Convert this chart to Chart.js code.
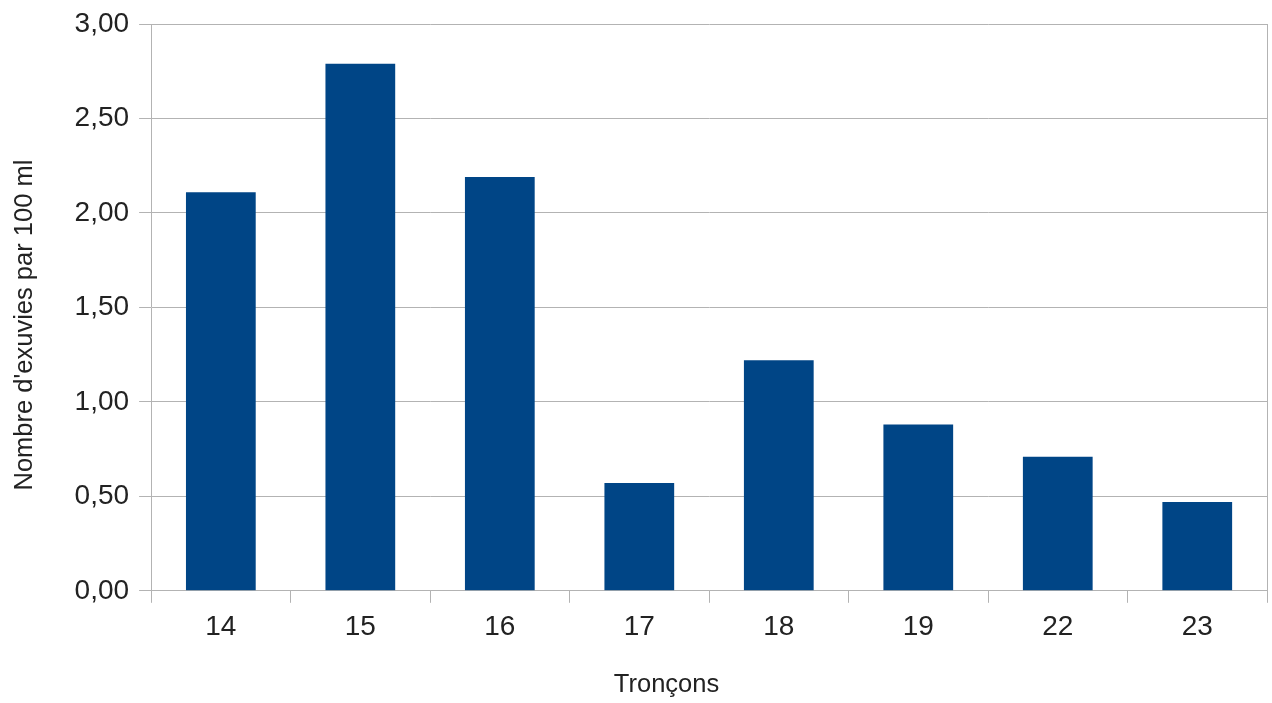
<!DOCTYPE html>
<html>
<head>
<meta charset="utf-8">
<script src="https://cdn.jsdelivr.net/npm/chart.js@4/dist/chart.umd.min.js"></script>
<style>
  html, body { margin: 0; padding: 0; background: #fff; }
  #wrap { width: 1272px; height: 703px; }
</style>
</head>
<body>
<div id="wrap"><canvas id="exuviesChart"></canvas></div>
<script>
const troncons = ['14', '15', '16', '17', '18', '19', '22', '23'];
const exuviesPar100m = [2.11, 2.79, 2.19, 0.57, 1.22, 0.88, 0.71, 0.47];
const yTicks = [0, 0.5, 1, 1.5, 2, 2.5, 3];

const gridColor = '#b3b3b3';
const textColor = '#222';
const fontFamily = '"Liberation Sans", Arial, sans-serif';

const frFormat = v => v.toFixed(2).replace('.', ',');
// trailing spaces push the centred titles a little off the axis middle
const pad = n => ' '.repeat(n);

new Chart(document.getElementById('exuviesChart'), {
    type: 'bar',
    data: {
        labels: troncons,
        datasets: [{
            label: "Nombre d'exuvies par 100 ml",
            data: exuviesPar100m,
            backgroundColor: '#004586',
            borderWidth: 0,
            barPercentage: 0.5,
            categoryPercentage: 1.0
        }]
    },
    options: {
        responsive: true,
        maintainAspectRatio: false,
        animation: false,
        layout: { padding: { left: 10, right: 5, top: 24, bottom: 3 } },
        plugins: {
            legend: { display: false },
            tooltip: { enabled: false }
        },
        scales: {
            x: {
                offset: true,
                grid: {
                    offset: true,
                    drawOnChartArea: false,
                    color: gridColor,
                    tickLength: 12
                },
                border: { color: gridColor },
                ticks: {
                    color: textColor,
                    padding: 8,
                    font: { family: fontFamily, size: 28 }
                },
                title: {
                    display: true,
                    text: 'Tronçons' + pad(12),
                    color: textColor,
                    padding: { top: 17, bottom: 0 },
                    font: { family: fontFamily, size: 25.5 }
                }
            },
            y: {
                min: 0,
                max: 3,
                afterBuildTicks: axis => { axis.ticks = yTicks.map(v => ({ value: v })); },
                grid: { color: gridColor, tickLength: 12 },
                border: { color: gridColor },
                ticks: {
                    color: textColor,
                    padding: 10,
                    callback: v => frFormat(v),
                    font: { family: fontFamily, size: 28, lineHeight: 1 }
                },
                title: {
                    display: true,
                    text: "Nombre d'exuvies par 100 ml" + pad(5),
                    color: textColor,
                    padding: { top: 0, bottom: 24 },
                    font: { family: fontFamily, size: 25.5 }
                }
            },
            yRight: {
                position: 'right',
                min: 0,
                max: 3,
                grid: { drawOnChartArea: false, tickLength: 0 },
                border: { color: gridColor },
                ticks: { display: false }
            }
        }
    }
});
</script>
</body>
</html>
